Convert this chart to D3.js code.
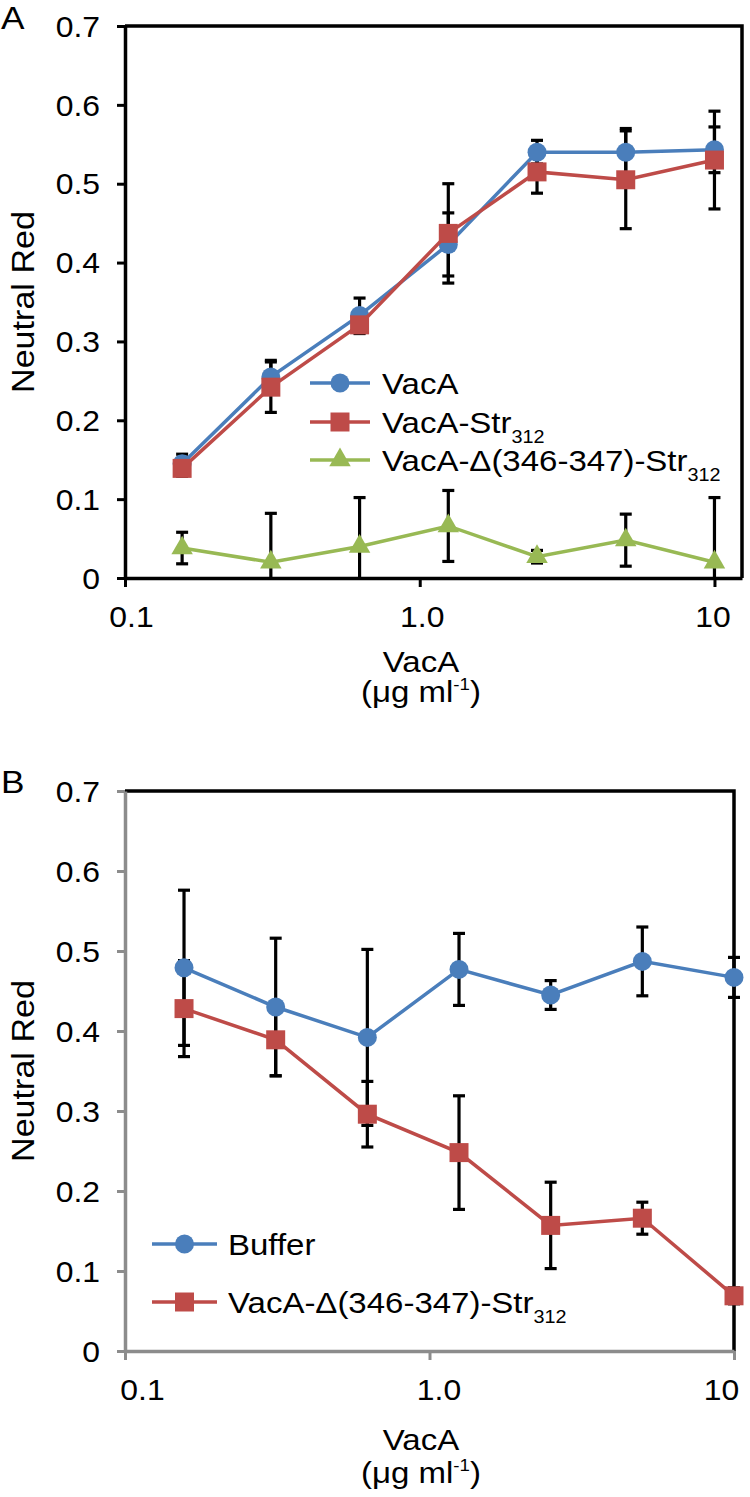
<!DOCTYPE html>
<html><head><meta charset="utf-8">
<script src="https://cdn.jsdelivr.net/npm/d3@7"></script>
<style>
body{margin:0;background:#fff}
svg text{font-family:"Liberation Sans",Arial,Helvetica,sans-serif;fill:#000}
</style>
</head><body>
<svg id="chart" width="750" height="1497"></svg>
<script>
// ---------- data ----------
const concentrations = [0.15625, 0.3125, 0.625, 1.25, 2.5, 5, 10];
const xTicks = [0.1, 1, 10];
const xTickLabels = ["0.1", "1.0", "10"];
const yTicks = [0, 0.1, 0.2, 0.3, 0.4, 0.5, 0.6, 0.7];
const yTickLabels = ["0", "0.1", "0.2", "0.3", "0.4", "0.5", "0.6", "0.7"];
const yTitle = "Neutral Red";
const xTitle = "VacA";
const xUnit = ["(μg ml", "-1", ")"];

// Panel A
const namesA = ["VacA", "VacA-Str", "VacA-Δ(346-347)-Str"];
const subsA = ["", "312", "312"];
const vacA        = [0.145, 0.255, 0.333, 0.423, 0.540, 0.540, 0.543];
const vacAErr     = [0.012, 0.021, 0.022, 0.040, 0.015, 0.030, 0.029];
const vacAStr     = [0.139, 0.242, 0.321, 0.437, 0.515, 0.505, 0.530];
const vacAStrErr  = [0.010, 0.032, 0.011, 0.063, 0.027, 0.062, 0.062];
const vacADel     = [0.038, 0.020, 0.040, 0.066, 0.027, 0.048, 0.020];
const vacADelErr  = [0.020, 0.062, 0.062, 0.045, 0.008, 0.033, 0.082];

// Panel B
const namesB = ["Buffer", "VacA-Δ(346-347)-Str"];
const subsB = ["", "312"];
const buffer      = [0.479, 0.430, 0.392, 0.477, 0.445, 0.487, 0.467];
const bufferErr   = [0.097, 0.086, 0.110, 0.045, 0.018, 0.043, 0.025];
const mutant      = [0.428, 0.389, 0.296, 0.248, 0.157, 0.166, 0.069];
const mutantErr   = [0.060, 0.045, 0.041, 0.071, 0.054, 0.020, 0.010];

const BLUE = "#4a7ebb", RED = "#be4b48", GREEN = "#98b954";
const SX = 1.1; // horizontal text stretch

const svg = d3.select("#chart");

function markerPath(shape) {
  if (shape === "circle") return d3.symbol().type(d3.symbolCircle).size(Math.PI * 9.5 * 9.5)();
  if (shape === "square") return d3.symbol().type(d3.symbolSquare).size(19 * 19)();
  return d3.symbol().type(d3.symbolTriangle).size(200)();
}

function stext(g, x, y, str, size, anchor) {
  return g.append("text")
    .attr("transform", `translate(${x},${y}) scale(${SX},1)`)
    .attr("font-size", size)
    .attr("text-anchor", anchor || "start")
    .text(str);
}

function drawPanel(p) {
  const g = svg.append("g");
  const x = d3.scaleLog().domain(p.xDomain).range(p.xRange);
  const y = d3.scaleLinear().domain([0, 0.7]).range(p.yRange);
  const [x0, x1] = p.xRange, [yb, yt] = p.yRange;

  // frame (top + right)
  g.append("path")
    .attr("d", `M${x0},${yt}H${x1}V${yb}`)
    .attr("fill", "none").attr("stroke", "#000").attr("stroke-width", 3.5);

  // y axis
  const ya = g.append("g").attr("transform", `translate(${x0},0)`)
    .call(d3.axisLeft(y).tickValues(yTicks).tickFormat((d, i) => yTickLabels[i])
      .tickSize(8).tickSizeOuter(0));
  ya.attr("font-family", null);
  ya.select(".domain").attr("stroke", p.axisColor).attr("stroke-width", 3.5);
  ya.selectAll(".tick line").attr("stroke", p.axisColor).attr("stroke-width", 3);
  ya.selectAll(".tick text")
    .attr("font-size", 29)
    .attr("x", -25 / SX).attr("dy", "0.35em")
    .attr("transform", `scale(${SX},1)`);

  // x axis
  const xa = g.append("g").attr("transform", `translate(0,${yb})`)
    .call(d3.axisBottom(x).tickValues(xTicks).tickFormat((d, i) => xTickLabels[i])
      .tickSize(9).tickSizeOuter(0));
  xa.attr("font-family", null);
  xa.select(".domain").attr("stroke", p.axisColor).attr("stroke-width", 3.5);
  xa.selectAll(".tick line").attr("stroke", p.axisColor).attr("stroke-width", 3);
  xa.selectAll(".tick text")
    .attr("font-size", 29)
    .attr("x", (d, i) => p.xLabelShift[i] / SX)
    .attr("y", 49).attr("dy", null)
    .attr("transform", `scale(${SX},1)`);

  // error bars
  const eg = g.append("g").attr("stroke", "#000").attr("stroke-width", 3.2).attr("fill", "none");
  p.series.forEach(s => {
    concentrations.forEach((c, i) => {
      const v = s.values[i], e = s.errors[i];
      const lo = Math.max(0, v - e), hi = v + e;
      const cx = x(c);
      eg.append("line").attr("x1", cx).attr("x2", cx).attr("y1", y(lo)).attr("y2", y(hi));
      eg.append("line").attr("x1", cx - 6).attr("x2", cx + 6).attr("y1", y(hi)).attr("y2", y(hi));
      if (v - e > 0) eg.append("line").attr("x1", cx - 6).attr("x2", cx + 6).attr("y1", y(lo)).attr("y2", y(lo));
    });
  });

  // lines + markers
  p.series.forEach(s => {
    const line = d3.line().x((d, i) => x(concentrations[i])).y(d => y(d));
    g.append("path").attr("d", line(s.values)).attr("fill", "none")
      .attr("stroke", s.color).attr("stroke-width", 3.5);
    g.selectAll(null).data(s.values).enter().append("path")
      .attr("transform", (d, i) => `translate(${x(concentrations[i])},${y(d)})`)
      .attr("d", markerPath(s.shape)).attr("fill", s.color);
  });

  // legend
  const lg = g.append("g");
  p.series.forEach((s, i) => {
    const cy = p.legend.rows[i];
    lg.append("line").attr("x1", p.legend.x0).attr("x2", p.legend.x1)
      .attr("y1", cy).attr("y2", cy).attr("stroke", s.color).attr("stroke-width", 3.5);
    lg.append("path").attr("transform", `translate(${(p.legend.x0 + p.legend.x1) / 2},${cy})`)
      .attr("d", markerPath(s.shape)).attr("fill", s.color);
    const t = stext(lg, p.legend.textX, cy + 11, null, 30);
    t.append("tspan").text(s.name);
    if (s.sub) t.append("tspan").attr("font-size", 18).attr("dy", 10).text(s.sub);
  });

  // titles
  stext(g, 34, (yb + yt) / 2, null, 31, "middle")
    .attr("transform", `translate(34,${(yb + yt) / 2}) rotate(-90) scale(${SX},1)`)
    .text(yTitle);
  stext(g, p.xTitleX, p.xTitleY, xTitle, 30, "middle");
  const u = stext(g, p.xTitleX, p.xUnitY, null, 30, "middle");
  u.append("tspan").text(xUnit[0]);
  u.append("tspan").attr("font-size", 17).attr("dy", -12).text(xUnit[1]);
  u.append("tspan").attr("dy", 12).text(xUnit[2]);

  // panel letter
  stext(g, 1, p.letterY, p.letter, 32);
}

drawPanel({
  letter: "A", letterY: 29,
  xDomain: [0.1, 12.4], xRange: [125, 742], yRange: [578, 26],
  axisColor: "#000", xLabelShift: [6, 2, -2],
  series: [
    { name: namesA[0], sub: subsA[0], values: vacA, errors: vacAErr, color: BLUE, shape: "circle" },
    { name: namesA[1], sub: subsA[1], values: vacAStr, errors: vacAStrErr, color: RED, shape: "square" },
    { name: namesA[2], sub: subsA[2], values: vacADel, errors: vacADelErr, color: GREEN, shape: "triangle" }
  ],
  legend: { x0: 310, x1: 370, textX: 382, rows: [383, 422, 460] },
  xTitleX: 421, xTitleY: 672, xUnitY: 702
});

drawPanel({
  letter: "B", letterY: 793,
  xDomain: [0.1, 10], xRange: [125, 734], yRange: [1351, 791],
  axisColor: "#8c8c8c", xLabelShift: [17, 9, -13],
  series: [
    { name: namesB[0], sub: subsB[0], values: buffer, errors: bufferErr, color: BLUE, shape: "circle" },
    { name: namesB[1], sub: subsB[1], values: mutant, errors: mutantErr, color: RED, shape: "square" }
  ],
  legend: { x0: 152, x1: 217, textX: 228, rows: [1244, 1302] },
  xTitleX: 421, xTitleY: 1450, xUnitY: 1483
});
</script>
</body></html>
